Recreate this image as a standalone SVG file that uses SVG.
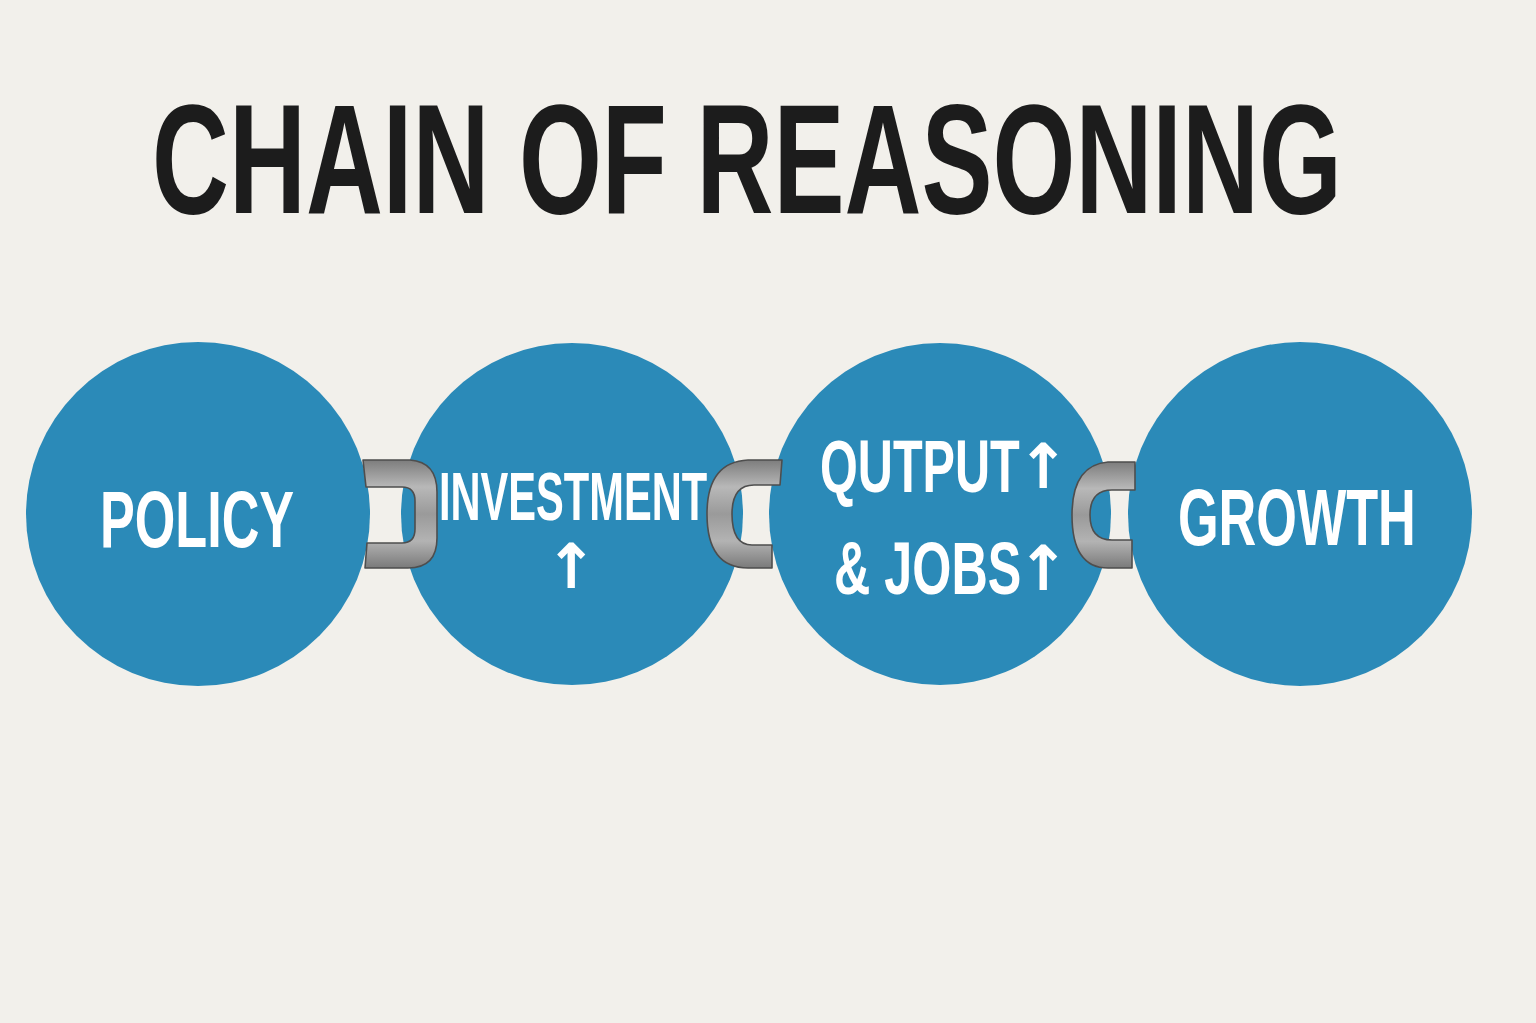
<svg xmlns="http://www.w3.org/2000/svg" width="1536" height="1023" viewBox="0 0 1536 1023">
<defs>
<linearGradient id="metal" x1="0" y1="0" x2="0" y2="1">
<stop offset="0" stop-color="#7d7d7d"/>
<stop offset="0.25" stop-color="#b8b8b8"/>
<stop offset="0.5" stop-color="#9a9a9a"/>
<stop offset="0.75" stop-color="#b3b3b3"/>
<stop offset="1" stop-color="#7a7a7a"/>
</linearGradient>
<style>
.node{fill:#2b8ab8;}
.lbl{fill:#ffffff;font-family:"Liberation Sans",Arial,sans-serif;font-weight:bold;}
.arr{fill:#ffffff;font-family:"DejaVu Sans",sans-serif;font-weight:bold;}
.link{fill:url(#metal);stroke:#4e4e4e;stroke-width:1.6;stroke-linejoin:round;}
.title{fill:#1c1c1c;font-family:"Liberation Sans",Arial,sans-serif;font-weight:bold;}
</style>
</defs>
<rect x="0" y="0" width="1536" height="1023" fill="#f2f0eb"/>
<text class="title" transform="translate(152,213) scale(0.683,1)" font-size="156">CHAIN OF REASONING</text>
<g id="node-policy">
<circle class="node" cx="198" cy="514" r="172"/>
<text class="lbl" transform="translate(100,547) scale(0.66,1)" font-size="79">POLICY</text>
</g>
<g id="node-investment">
<circle class="node" cx="572" cy="514" r="171"/>
<text class="lbl" transform="translate(439,520) scale(0.603,1)" font-size="69">INVESTMENT</text>
<text class="arr" x="571" y="588" font-size="62" text-anchor="middle">↑</text>
</g>
<g id="node-output">
<circle class="node" cx="940" cy="514" r="171"/>
<text class="lbl" transform="translate(820,492) scale(0.657,1)" font-size="74">QUTPUT</text>
<text class="arr" x="1043" y="488" font-size="62" text-anchor="middle">↑</text>
<text class="lbl" transform="translate(834,594) scale(0.68,1)" font-size="74">&amp; JOBS</text>
<text class="arr" x="1043" y="590" font-size="62" text-anchor="middle">↑</text>
</g>
<g id="node-growth">
<circle class="node" cx="1300" cy="514" r="172"/>
<text class="lbl" transform="translate(1178,545) scale(0.661,1)" font-size="79">GROWTH</text>
</g>
<g id="connectors">
<path class="link" d="M363,460 L410,460 Q437,462 437,492 L437,538 Q437,568 408,568 L365,568 L367,543 L402,543 Q415,543 415,529 L415,501 Q415,487 402,487 L366,487 Z"/>
<path class="link" d="M782,460 L748,460 Q707,462 707,514 Q707,568 748,568 L772,568 L772,545 L752,545 Q732,545 732,514 Q732,485 754,485 L780,485 Z"/>
<path class="link" d="M1135,462 L1108,462 Q1072,465 1072,515 Q1072,568 1108,568 L1132,568 L1132,540 L1112,540 Q1090,540 1090,515 Q1090,490 1112,490 L1135,490 Z"/>
</g>
</svg>
